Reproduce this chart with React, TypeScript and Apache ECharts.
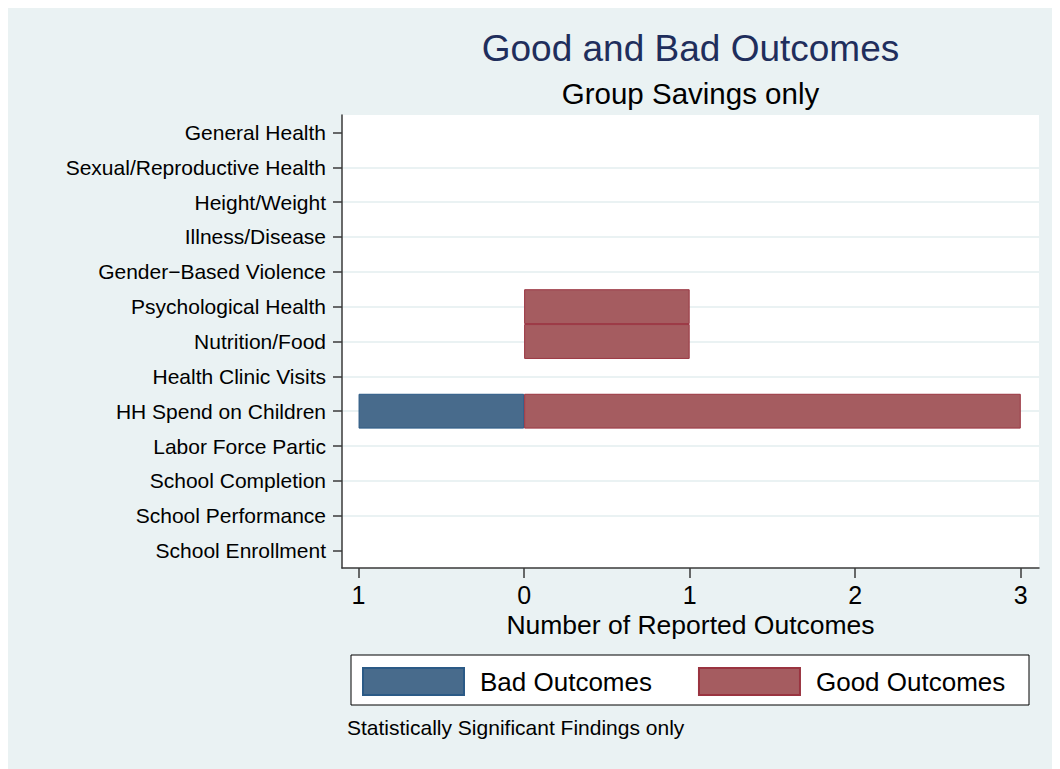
import React, { useEffect, useRef } from "react";
import * as echarts from "echarts";

const categories = [
  "General Health",
  "Sexual/Reproductive Health",
  "Height/Weight",
  "Illness/Disease",
  "Gender\u2212Based Violence",
  "Psychological Health",
  "Nutrition/Food",
  "Health Clinic Visits",
  "HH Spend on Children",
  "Labor Force Partic",
  "School Completion",
  "School Performance",
  "School Enrollment",
];
const badCounts = [0, 0, 0, 0, 0, 0, 0, 0, 1, 0, 0, 0, 0];
const goodCounts = [0, 0, 0, 0, 0, 1, 1, 0, 3, 0, 0, 0, 0];
const xTicks = [-1, 0, 1, 2, 3];

const titleText = "Good and Bad Outcomes";
const subtitleText = "Group Savings only";
const xAxisTitle = "Number of Reported Outcomes";
const noteText = "Statistically Significant Findings only";

const FONT = "'Liberation Sans', Arial, Helvetica, sans-serif";

export default function App() {
  const ref = useRef<HTMLDivElement>(null);
  useEffect(() => {
    document.body.style.overflow = "hidden";
    const chart = echarts.init(ref.current!, null, { renderer: "svg" });
    const gridCats = categories.slice(1, categories.length - 1);
    chart.setOption({
      animation: false,
      backgroundColor: "#EAF2F3",
      textStyle: { fontFamily: FONT },
      grid: {
        left: 334,
        right: 21,
        top: 107,
        bottom: 201,
        show: true,
        backgroundColor: "#ffffff",
        borderWidth: 0,
      },
      graphic: [
        {
          type: "text",
          x: 682.5,
          y: 40,
          style: {
            text: titleText,
            fontSize: 37,
            fontFamily: FONT,
            fill: "#1F2E5C",
            textAlign: "center",
            textVerticalAlign: "middle",
          },
        },
        {
          type: "text",
          x: 682.5,
          y: 85,
          style: {
            text: subtitleText,
            fontSize: 29.5,
            fontFamily: FONT,
            fill: "#000000",
            textAlign: "center",
            textVerticalAlign: "middle",
          },
        },
        {
          type: "rect",
          z: 0,
          shape: { x: 343, y: 647, width: 678, height: 50 },
          style: { fill: "#ffffff", stroke: "#000000", lineWidth: 1 },
        },
        {
          type: "text",
          x: 339,
          y: 719,
          style: {
            text: noteText,
            fontSize: 21,
            fontFamily: FONT,
            fill: "#000000",
            textAlign: "left",
            textVerticalAlign: "middle",
          },
        },
      ],
      legend: {
        left: 354,
        top: 659,
        padding: 0,
        z: 5,
        itemWidth: 101,
        itemHeight: 27,
        itemGap: 46,
        icon: "rect",
        selectedMode: false,
        data: ["Bad Outcomes", "Good Outcomes"],
        textStyle: {
          fontSize: 26,
          color: "#000000",
          fontFamily: FONT,
          padding: [0, 0, 0, 11],
        },
      },
      xAxis: {
        type: "value",
        min: -1.1,
        max: 3.11,
        name: xAxisTitle,
        nameLocation: "middle",
        nameGap: 42,
        nameTextStyle: { fontSize: 26.5, color: "#000000", fontFamily: FONT },
        axisLine: { show: true, lineStyle: { color: "#3a3a3a", width: 1.5 } },
        axisTick: {
          show: true,
          length: 10,
          customValues: xTicks,
          lineStyle: { color: "#3a3a3a", width: 1.5 },
        },
        axisLabel: {
          customValues: xTicks,
          formatter: (v: number) => String(Math.abs(v)),
          fontSize: 25,
          color: "#000000",
          margin: 14,
          fontFamily: FONT,
        },
        splitLine: { show: false },
      },
      yAxis: {
        type: "category",
        inverse: true,
        data: categories,
        axisLine: {
          show: true,
          onZero: false,
          lineStyle: { color: "#3a3a3a", width: 1.5 },
        },
        axisTick: {
          show: true,
          alignWithLabel: true,
          length: 9,
          lineStyle: { color: "#3a3a3a", width: 1.5 },
        },
        axisLabel: {
          fontSize: 21,
          color: "#000000",
          margin: 16,
          fontFamily: FONT,
        },
        splitLine: { show: false },
      },
      series: [
        {
          name: "gridlines",
          type: "line",
          data: [],
          z: 0,
          silent: true,
          markLine: {
            z: 0,
            silent: true,
            symbol: ["none", "none"],
            label: { show: false },
            lineStyle: { color: "#EAF2F3", width: 2, type: "solid" },
            emphasis: { disabled: true },
            data: gridCats.map((c) => ({ yAxis: c })),
          },
        },
        {
          name: "Bad Outcomes",
          type: "bar",
          z: 3,
          barWidth: "100%",
          barGap: "-100%",
          data: badCounts.map((v) => (v ? -v : null)),
          itemStyle: {
            color: "#486B8C",
            borderColor: "#2B5A86",
            borderWidth: 1,
          },
          emphasis: { disabled: true },
        },
        {
          name: "Good Outcomes",
          type: "bar",
          z: 3,
          barWidth: "100%",
          barGap: "-100%",
          data: goodCounts.map((v) => (v ? v : null)),
          itemStyle: {
            color: "#A55C60",
            borderColor: "#9A3440",
            borderWidth: 1,
          },
          emphasis: { disabled: true },
        },
      ],
    });
    return () => chart.dispose();
  }, []);
  return <div ref={ref} style={{ width: 1052, height: 761 }} />;
}
